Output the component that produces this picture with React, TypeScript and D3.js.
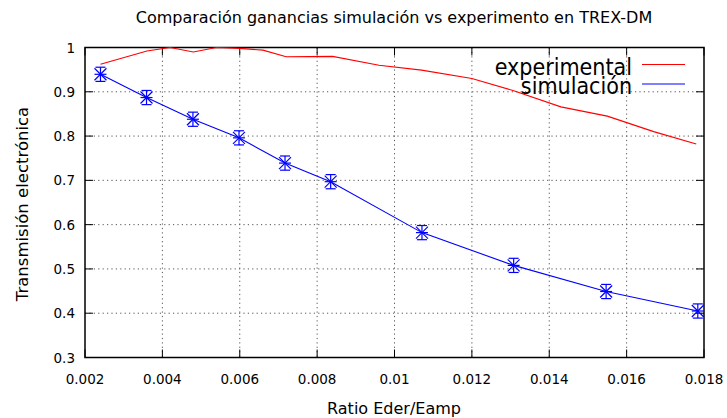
import React from "react";
import * as d3 from "d3";

// Ratio Eder/Eamp for the simulated runs
const simX = [0.0024, 0.00359, 0.00479, 0.00598, 0.00717, 0.00835, 0.01071, 0.01308, 0.01547, 0.01784];
// Simulated electron transmission
const simY = [0.9395, 0.887, 0.838, 0.796, 0.739, 0.697, 0.582, 0.508, 0.449, 0.405];
// Uncertainty on the simulated transmission
const simErr = [0.016, 0.016, 0.016, 0.016, 0.016, 0.016, 0.016, 0.016, 0.016, 0.016];

// Measured curve
const expX = [0.0024, 0.0036, 0.0042, 0.0048, 0.0054, 0.006, 0.0066, 0.0072, 0.0084, 0.0096, 0.0107, 0.012, 0.0131, 0.0143, 0.0155, 0.0167, 0.0178];
const expY = [0.962, 0.992, 1.0, 0.99, 1.0, 0.998, 0.994, 0.979, 0.98, 0.96, 0.949, 0.93, 0.902, 0.866, 0.845, 0.81, 0.782];

const xTicks = [0.002, 0.004, 0.006, 0.008, 0.01, 0.012, 0.014, 0.016, 0.018];
const yTicks = [0.3, 0.4, 0.5, 0.6, 0.7, 0.8, 0.9, 1];

const W = 727;
const H = 418;
const M = { left: 85, right: 704, top: 47.5, bottom: 357.5 };
const FONT = "'DejaVu Sans', sans-serif";
const FONT_C = "'DejaVu Sans Condensed', 'DejaVu Sans', sans-serif";

export default function App() {
  const x = d3.scaleLinear().domain([0.002, 0.018]).range([M.left, M.right]);
  const y = d3.scaleLinear().domain([0.3, 1]).range([M.bottom, M.top]);

  const expLine = d3
    .line<number>()
    .x((_, i) => x(expX[i]))
    .y((d) => y(d))(expY) as string;

  const simLine = d3
    .line<number>()
    .x((_, i) => x(simX[i]))
    .y((d) => y(d))(simY) as string;

  const fmt = (v: number) => String(+v.toFixed(3));
  const tick = 8;

  return (
    <svg
      width={W}
      height={H}
      style={{ position: "absolute", left: 0, top: 0, background: "#fff" }}
      fontFamily={FONT}
    >
      {/* grid */}
      <g stroke="#555" strokeWidth={1} strokeDasharray="1.2,3.2">
        {xTicks.slice(1, -1).map((t) => (
          <line key={"gx" + t} x1={x(t)} x2={x(t)} y1={M.top} y2={M.bottom} />
        ))}
        {yTicks.slice(1, -1).map((t) => (
          <line key={"gy" + t} x1={M.left} x2={M.right} y1={y(t)} y2={y(t)} />
        ))}
      </g>

      {/* ticks on all four sides */}
      <g stroke="#000" strokeWidth={1}>
        {xTicks.map((t) => (
          <g key={"tx" + t}>
            <line x1={x(t)} x2={x(t)} y1={M.bottom} y2={M.bottom - tick} />
            <line x1={x(t)} x2={x(t)} y1={M.top} y2={M.top + tick} />
          </g>
        ))}
        {yTicks.map((t) => (
          <g key={"ty" + t}>
            <line x1={M.left} x2={M.left + tick} y1={y(t)} y2={y(t)} />
            <line x1={M.right} x2={M.right - tick} y1={y(t)} y2={y(t)} />
          </g>
        ))}
      </g>

      {/* frame */}
      <rect
        x={M.left}
        y={M.top}
        width={M.right - M.left}
        height={M.bottom - M.top}
        fill="none"
        stroke="#000"
        strokeWidth={1.5}
      />

      {/* tick labels */}
      <g fontSize={13.5} fill="#000">
        {xTicks.map((t) => (
          <text key={"lx" + t} x={x(t)} y={M.bottom + 26} textAnchor="middle">
            {fmt(t)}
          </text>
        ))}
        {yTicks.map((t) => (
          <text key={"ly" + t} x={M.left - 10} y={y(t) + 5} textAnchor="end">
            {fmt(t)}
          </text>
        ))}
      </g>

      {/* curves */}
      <path d={expLine} fill="none" stroke="#ff0000" strokeWidth={1.1} />
      <path d={simLine} fill="none" stroke="#0000ff" strokeWidth={1.1} />

      {/* simulated points: asterisk with error bars */}
      <g stroke="#0000ff" strokeWidth={1.2}>
        {simX.map((vx, i) => {
          const cx = x(vx);
          const cy = y(simY[i]);
          const top = y(simY[i] + simErr[i]);
          const bot = y(simY[i] - simErr[i]);
          const r = 6;
          const c = 5;
          return (
            <g key={"p" + i}>
              <line x1={cx} x2={cx} y1={top} y2={bot} />
              <line x1={cx - c} x2={cx + c} y1={top} y2={top} />
              <line x1={cx - c} x2={cx + c} y1={bot} y2={bot} />
              <line x1={cx - r} x2={cx + r} y1={cy} y2={cy} />
              <line x1={cx - r} x2={cx + r} y1={cy - r} y2={cy + r} />
              <line x1={cx - r} x2={cx + r} y1={cy + r} y2={cy - r} />
            </g>
          );
        })}
      </g>

      {/* legend */}
      <g fontSize={23} fill="#000" fontFamily={FONT_C}>
        <text x={632} y={75} textAnchor="end">experimental</text>
        <line x1={642} x2={685} y1={64.5} y2={64.5} stroke="#ff0000" strokeWidth={1.1} />
        <text x={632} y={94} textAnchor="end">simulación</text>
        <line x1={642} x2={685} y1={84} y2={84} stroke="#0000ff" strokeWidth={1.1} />
      </g>

      {/* titles */}
      <text x={394} y={23} textAnchor="middle" fontSize={16}>
        Comparación ganancias simulación vs experimento en TREX-DM
      </text>
      <text x={394} y={414} textAnchor="middle" fontSize={16}>
        Ratio Eder/Eamp
      </text>
      <text
        transform={`translate(28,204) rotate(-90)`}
        textAnchor="middle"
        fontSize={16.5}
      >
        Transmisión electrónica
      </text>
    </svg>
  );
}
